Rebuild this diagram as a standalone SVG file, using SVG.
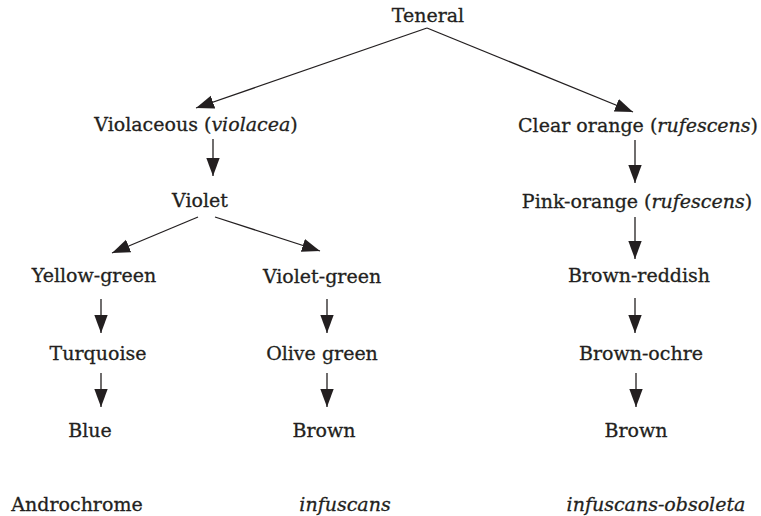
<svg xmlns="http://www.w3.org/2000/svg" width="761" height="516" viewBox="0 0 761 516">
<defs>
<marker id="ah" markerUnits="userSpaceOnUse" markerWidth="20" markerHeight="16" viewBox="0 0 20 16" refX="18" refY="7.5" orient="auto">
<path d="M0,0.8 L18,7.5 L0,14.2 Z" fill="#231f20"/>
</marker>
<style>
.t{font-family:"DejaVu Serif","Liberation Serif",serif;font-size:19px;fill:#231f20;stroke:#231f20;stroke-width:0.3;text-anchor:middle}
.i{font-style:italic}
.e{stroke:#231f20;stroke-width:1.3;fill:none;marker-end:url(#ah)}
</style>
</defs>
<rect width="761" height="516" fill="#ffffff"/>
<g id="connectors">
<line class="e" x1="427" y1="28" x2="196" y2="108"/>
<line class="e" x1="427" y1="28" x2="633" y2="112"/>
<line class="e" x1="213" y1="139" x2="213" y2="176"/>
<line class="e" x1="198" y1="217" x2="112" y2="253"/>
<line class="e" x1="215" y1="217" x2="320" y2="251"/>
<line class="e" x1="101" y1="299" x2="101" y2="333"/>
<line class="e" x1="101" y1="373" x2="101" y2="407"/>
<line class="e" x1="327" y1="299" x2="327" y2="333"/>
<line class="e" x1="327" y1="373" x2="327" y2="407"/>
<line class="e" x1="635" y1="140" x2="635" y2="183"/>
<line class="e" x1="635" y1="217" x2="635" y2="259"/>
<line class="e" x1="635" y1="298" x2="635" y2="333"/>
<line class="e" x1="636" y1="373" x2="636" y2="407"/>
</g>
<g id="teneral"><text class="t" x="428" y="22">Teneral</text></g>
<g id="violaceous"><text class="t" x="196" y="131">Violaceous (<tspan class="i">violacea</tspan>)</text></g>
<g id="clear-orange"><text class="t" x="638" y="132">Clear orange (<tspan class="i">rufescens</tspan>)</text></g>
<g id="violet"><text class="t" x="200" y="207">Violet</text></g>
<g id="pink-orange"><text class="t" x="637" y="208">Pink-orange (<tspan class="i">rufescens</tspan>)</text></g>
<g id="yellow-green"><text class="t" x="94" y="282">Yellow-green</text></g>
<g id="violet-green"><text class="t" x="322" y="283">Violet-green</text></g>
<g id="brown-reddish"><text class="t" x="639" y="282">Brown-reddish</text></g>
<g id="turquoise"><text class="t" x="98" y="360">Turquoise</text></g>
<g id="olive-green"><text class="t" x="322" y="360">Olive green</text></g>
<g id="brown-ochre"><text class="t" x="641" y="360">Brown-ochre</text></g>
<g id="blue"><text class="t" x="90" y="437">Blue</text></g>
<g id="brown-mid"><text class="t" x="324" y="437">Brown</text></g>
<g id="brown-right"><text class="t" x="636" y="437">Brown</text></g>
<g id="androchrome"><text class="t" x="77" y="511">Androchrome</text></g>
<g id="infuscans"><text class="t i" x="345" y="511">infuscans</text></g>
<g id="infuscans-obsoleta"><text class="t i" x="656" y="511">infuscans-obsoleta</text></g>
</svg>
